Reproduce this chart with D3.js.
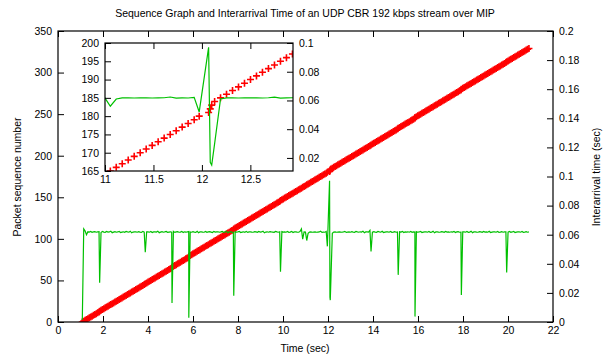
<!DOCTYPE html>
<html lang="en">
<head>
<meta charset="UTF-8">
<title>Sequence Graph and Interarrival Time</title>
<script src="https://d3js.org/d3.v7.min.js"></script>
<style>
  body { margin: 0; background: #fff; }
  svg { font-family: "Liberation Sans", Arial, sans-serif; }
  text { font-size: 10.5px; fill: #000; }
  .axis path { display: none; }
  .axis line { stroke: #000; stroke-width: 1; }
</style>
</head>
<body>
<div id="chart"></div>
<script>
// arrival of the first packet (sec) and the interarrival gap of every packet (ms)
const firstArrival = 1.08;
const gapsMs = [
  1.4, 64.0, 62.5, 60.0, 62.0, 61.8, 62.2, 61.6, 61.9, 62.1,
  61.7, 61.9, 62.0, 27.0, 61.5, 62.3, 61.8, 61.6, 62.2, 61.8,
  61.9, 62.4, 61.4, 61.8, 62.1, 61.7, 61.9, 62.3, 61.5, 61.8,
  62.0, 61.6, 62.2, 61.9, 61.7, 62.4, 61.3, 61.8, 62.0, 61.9,
  61.7, 62.1, 61.8, 61.6, 62.3, 61.8, 48.0, 62.0, 61.9, 61.7,
  62.2, 61.5, 61.9, 62.0, 61.8, 62.4, 61.4, 61.8, 62.1, 61.7,
  61.9, 62.2, 61.6, 61.8, 62.0, 61.7, 13.0, 62.3, 61.6, 61.9,
  62.1, 61.7, 61.8, 62.3, 61.5, 62.0, 61.8, 61.9, 62.2, 3.0,
  61.9, 61.7, 62.1, 61.8, 61.6, 62.4, 61.4, 61.9, 62.0, 61.8,
  61.7, 62.2, 61.6, 61.9, 62.1, 61.8, 61.5, 62.3, 61.8, 61.9,
  62.0, 61.7, 61.9, 62.2, 61.6, 61.8, 62.4, 61.3, 61.9, 62.0,
  61.8, 61.7, 18.0, 62.1, 61.8, 61.9, 62.2, 61.5, 61.8, 62.0,
  61.7, 62.3, 61.6, 61.9, 62.0, 61.8, 61.7, 62.1, 61.9, 61.6,
  62.2, 61.8, 61.9, 62.4, 61.3, 61.8, 62.0, 61.7, 62.1, 61.9,
  61.8, 61.6, 62.2, 61.9, 61.7, 62.0, 34.5, 62.1, 61.8, 61.9,
  61.7, 62.2, 61.6, 61.8, 62.3, 61.5, 61.9, 62.0, 61.8, 61.7,
  62.1, 64.0, 57.0, 61.9, 61.8, 56.0, 61.0, 61.8, 61.9, 61.7,
  61.8, 61.9, 61.7, 61.8, 61.9, 62.4, 61.6, 61.8, 61.7, 62.2,
  52.0, 97.0, 17.0, 15.0, 30.0, 61.0, 61.8, 61.9, 61.7, 61.8,
  61.9, 61.8, 61.7, 61.9, 62.3, 61.6, 61.8, 61.9, 61.7, 62.1,
  61.8, 61.6, 62.2, 61.9, 61.7, 62.0, 61.8, 62.4, 61.4, 61.9,
  62.0, 61.8, 63.0, 48.5, 61.7, 62.1, 61.8, 61.6, 62.2, 61.9,
  61.7, 62.3, 61.5, 61.8, 62.0, 61.9, 61.7, 62.2, 61.6, 61.8,
  62.1, 61.7, 61.9, 32.4, 62.0, 61.8, 62.3, 61.5, 61.9, 61.8,
  62.0, 61.7, 62.2, 61.6, 61.9, 61.8, 3.7, 62.1, 61.7, 61.9,
  62.3, 61.5, 61.8, 62.0, 61.9, 61.7, 62.2, 61.6, 61.8, 62.4,
  61.3, 61.9, 62.0, 61.8, 61.7, 62.1, 61.9, 61.6, 62.2, 61.8,
  61.9, 61.7, 62.0, 61.8, 62.3, 61.5, 61.9, 62.1, 61.7, 61.8,
  18.6, 62.0, 61.9, 61.7, 62.2, 61.6, 61.8, 62.4, 61.4, 61.9,
  62.0, 61.8, 61.7, 62.1, 61.9, 61.6, 62.2, 61.8, 61.9, 61.7,
  62.3, 61.5, 61.8, 62.0, 61.9, 61.7, 62.2, 61.6, 61.8, 62.1,
  61.7, 61.9, 62.0, 34.0, 61.8, 62.2, 61.6, 61.9, 62.3, 61.5,
  61.8, 62.0, 61.9, 61.7, 62.2, 61.6, 61.8, 62.1, 61.7, 61.9
];

const timeTicks = [0, 2, 4, 6, 8, 10, 12, 14, 16, 18, 20, 22];
const seqTicks = [0, 50, 100, 150, 200, 250, 300, 350];
const iatTicks = [0, 0.02, 0.04, 0.06, 0.08, 0.1, 0.12, 0.14, 0.16, 0.18, 0.2];
const zoomTimeTicks = [11, 11.5, 12, 12.5];
const zoomSeqTicks = [165, 170, 175, 180, 185, 190, 195, 200];
const zoomIatTicks = [0.02, 0.04, 0.06, 0.08, 0.1];

// packet n arrives one gap after packet n-1
const packets = [];
let t = firstArrival;
gapsMs.forEach((g, i) => {
  if (i > 0) t += g / 1000;
  packets.push({ seq: i, time: t, gap: g / 1000 });
});

const W = 608, H = 355;
const svg = d3.select("#chart").append("svg")
  .attr("width", W).attr("height", H);

const box = { left: 58, right: 553, top: 31, bottom: 322 };
const x = d3.scaleLinear().domain([0, 22]).range([box.left, box.right]);
const ySeq = d3.scaleLinear().domain([0, 350]).range([box.bottom, box.top]);
const yIat = d3.scaleLinear().domain([0, 0.2]).range([box.bottom, box.top]);

const inset = { left: 105, right: 293, top: 43, bottom: 171 };
const ix = d3.scaleLinear().domain([11, 12.94]).range([inset.left, inset.right]);
const iySeq = d3.scaleLinear().domain([165, 200]).range([inset.bottom, inset.top]);
const iyIat = d3.scaleLinear().domain([0.0109, 0.1]).range([inset.bottom, inset.top]);

const tick = 6;
const fmt = d3.format("~g");

function drawAxes(g, b, xs, yl, yr, xt, ylt, yrt) {
  g.append("g").attr("class", "axis")
    .attr("transform", `translate(0,${b.bottom})`)
    .call(d3.axisBottom(xs).tickValues(xt).tickFormat(fmt).tickSizeInner(-tick).tickSizeOuter(0).tickPadding(5));
  g.append("g").attr("class", "axis")
    .attr("transform", `translate(0,${b.top})`)
    .call(d3.axisTop(xs).tickValues(xt).tickFormat("").tickSizeInner(-tick).tickSizeOuter(0));
  g.append("g").attr("class", "axis")
    .attr("transform", `translate(${b.left},0)`)
    .call(d3.axisLeft(yl).tickValues(ylt).tickFormat(fmt).tickSizeInner(-tick).tickSizeOuter(0).tickPadding(6));
  g.append("g").attr("class", "axis")
    .attr("transform", `translate(${b.right},0)`)
    .call(d3.axisRight(yr).tickValues(yrt).tickFormat(fmt).tickSizeInner(-tick).tickSizeOuter(0).tickPadding(6));
  g.selectAll(".axis text").style("font-size", "10.5px").style("font-family", "inherit");
}

const cross = "M-3.5,0H3.5M0,-3.5V3.5";

function drawData(g, xs, ys, yi, clipId, b) {
  g.append("clipPath").attr("id", clipId)
    .append("rect").attr("x", b.left).attr("y", b.top)
    .attr("width", b.right - b.left).attr("height", b.bottom - b.top);
  const d = g.append("g").attr("clip-path", `url(#${clipId})`);
  d.append("g").selectAll("path")
    .data(packets).enter().append("path")
    .attr("transform", p => `translate(${xs(p.time)},${ys(p.seq)})`)
    .attr("d", cross)
    .attr("stroke", "#ff0000").attr("stroke-width", 1.6).attr("fill", "none");
  d.append("path")
    .datum(packets)
    .attr("d", d3.line().x(p => xs(p.time)).y(p => yi(p.gap)))
    .attr("fill", "none").attr("stroke", "#00c000").attr("stroke-width", 1.2);
}

// main plot
const main = svg.append("g");
drawData(main, x, ySeq, yIat, "clipMain", box);
drawAxes(main, box, x, ySeq, yIat, timeTicks, seqTicks, iatTicks);
main.append("rect")
  .attr("x", box.left).attr("y", box.top)
  .attr("width", box.right - box.left).attr("height", box.bottom - box.top)
  .attr("fill", "none").attr("stroke", "#000").attr("stroke-width", 1.2);

// zoomed inset
const zoom = svg.append("g");
zoom.append("rect")
  .attr("x", inset.left).attr("y", inset.top)
  .attr("width", inset.right - inset.left).attr("height", inset.bottom - inset.top)
  .attr("fill", "#fff");
drawData(zoom, ix, iySeq, iyIat, "clipInset", inset);
drawAxes(zoom, inset, ix, iySeq, iyIat, zoomTimeTicks, zoomSeqTicks, zoomIatTicks);
zoom.append("rect")
  .attr("x", inset.left).attr("y", inset.top)
  .attr("width", inset.right - inset.left).attr("height", inset.bottom - inset.top)
  .attr("fill", "none").attr("stroke", "#000").attr("stroke-width", 1.2);

// titles
svg.append("text")
  .attr("x", 305).attr("y", 17)
  .attr("text-anchor", "middle")
  .text("Sequence Graph and Interarrival Time of an UDP CBR 192 kbps stream over MIP");

svg.append("text")
  .attr("x", 305).attr("y", 352)
  .attr("text-anchor", "middle")
  .text("Time (sec)");

svg.append("text")
  .attr("transform", "translate(21,177) rotate(-90)")
  .attr("text-anchor", "middle")
  .text("Packet sequence number");

svg.append("text")
  .attr("transform", "translate(600,177) rotate(-90)")
  .attr("text-anchor", "middle")
  .text("Interarrival time (sec)");
</script>
</body>
</html>
